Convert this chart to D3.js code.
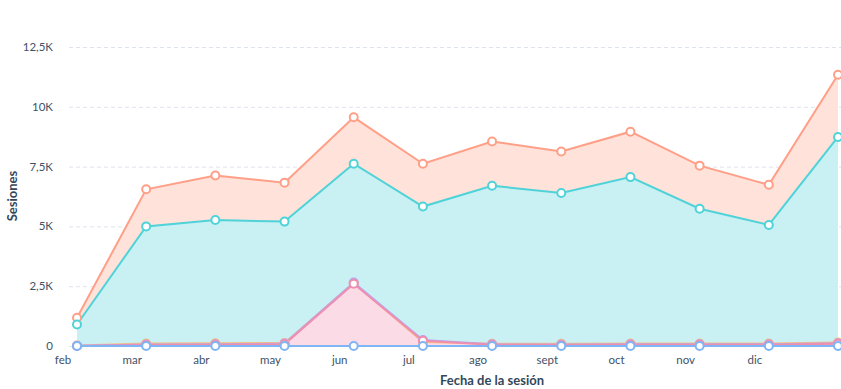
<!DOCTYPE html>
<html><head><meta charset="utf-8">
<script src="https://cdn.jsdelivr.net/npm/d3@7"></script>
<style>
body{margin:0;background:#fff;}
text{font-family:Lato,"Noto Sans",sans-serif;}
</style></head>
<body><svg id="c" width="841" height="389"></svg>
<script>
const months = ["feb","mar","abr","may","jun","jul","ago","sept","oct","nov","dic","ene"];
const tickLabels = ["feb","mar","abr","may","jun","jul","ago","sept","oct","nov","dic"];
const yTicks = [0, 2500, 5000, 7500, 10000, 12500];
const yTickLabels = ["0","2,5K","5K","7,5K","10K","12,5K"];
const salmonValues = [1180, 6550, 7130, 6830, 9560, 7620, 8550, 8130, 8960, 7540, 6740, 11340];
const tealValues   = [900, 5000, 5270, 5200, 7620, 5830, 6700, 6400, 7060, 5740, 5060, 8740];
const pinkValues   = [0, 40, 50, 70, 2600, 220, 50, 40, 50, 50, 50, 90];
const purpleValues = [10, 60, 70, 100, 2650, 250, 70, 60, 70, 70, 70, 110];
const yellowValues = [20, 100, 110, 130, 2630, 170, 90, 90, 100, 100, 100, 150];
const blueValues   = [0, 0, 0, 0, 0, 0, 0, 0, 0, 0, 0, 0];

const series = [
  {name:"salmon", values:salmonValues, line:"#ff9f87", fill:"#ffe2da"},
  {name:"teal", values:tealValues, line:"#4fd3d8", fill:"#c9f0f3"},
  {name:"yellow", values:yellowValues, line:"#f7bf80", fill:"none"},
  {name:"purple", values:purpleValues, line:"#b9a4ec", fill:"none"},
  {name:"pink", values:pinkValues, line:"#ef8fb0", fill:"#fbdbe6"},
  {name:"blue", values:blueValues, line:"#7fb4f5", fill:"none"}
];

const svg = d3.select("#c");
const x = d3.scaleLinear().domain([0, months.length-1]).range([77, 838]);
const y = d3.scaleLinear().domain([0, 12500]).range([346, 47]);

svg.append("g").selectAll("line").data(yTicks).join("line")
  .attr("x1", 69).attr("x2", 841)
  .attr("y1", d=>y(d)+0.5).attr("y2", d=>y(d)+0.5)
  .attr("stroke", "#dfe3eb").attr("stroke-dasharray","4,3").attr("stroke-width",1);

svg.append("g").selectAll("text").data(yTicks).join("text")
  .attr("x", 53).attr("y", d=>y(d)).attr("dy","0.35em")
  .attr("text-anchor","end").attr("font-size",11.5).attr("fill","#3f5166")
  .text((d,i)=>yTickLabels[i]);

svg.append("g").selectAll("text").data(tickLabels).join("text")
  .attr("x", (d,i)=>x(i)-14).attr("y", 364)
  .attr("text-anchor","middle").attr("font-size",11.5).attr("fill","#3f5166")
  .text(d=>d);

svg.append("text").attr("transform","translate(17,196) rotate(-90)")
  .attr("text-anchor","middle").attr("font-size",13).attr("font-weight","bold").attr("fill","#33475b")
  .text("Sesiones");
svg.append("text").attr("x",492).attr("y",385)
  .attr("text-anchor","middle").attr("font-size",13).attr("font-weight","bold").attr("fill","#33475b")
  .text("Fecha de la sesión");

const area = d3.area().x((d,i)=>x(i)).y0(y(0)).y1(d=>y(d));
const line = d3.line().x((d,i)=>x(i)).y(d=>y(d));

series.forEach(s=>{
  if (s.fill !== "none") {
    svg.append("path").datum(s.values).attr("d", area).attr("fill", s.fill);
  }
});
series.forEach(s=>{
  svg.append("path").datum(s.values).attr("d", line)
    .attr("fill","none").attr("stroke", s.line).attr("stroke-width", 2);
});
series.forEach(s=>{
  svg.append("g").selectAll("circle").data(s.values).join("circle")
    .attr("cx",(d,i)=>x(i)).attr("cy",d=>y(d)).attr("r",4)
    .attr("fill","#fff").attr("stroke", s.line).attr("stroke-width",2);
});
</script></body></html>
